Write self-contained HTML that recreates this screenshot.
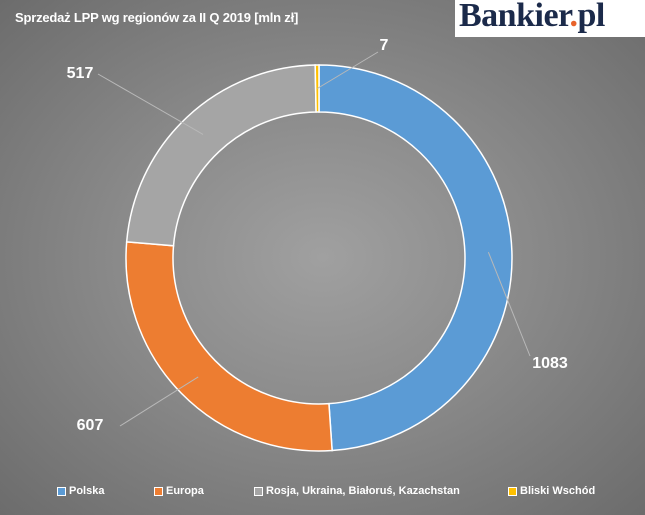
<!DOCTYPE html>
<html><head><meta charset="utf-8"><style>
html,body{margin:0;padding:0}
body{width:645px;height:515px;overflow:hidden;background:radial-gradient(ellipse at 50% 50%,#a0a0a0 0%,#8a8a8a 45%,#6c6c6c 100%);font-family:"Liberation Sans",sans-serif;position:relative}
#title{position:absolute;left:15px;top:10px;color:#fff;font-size:13px;font-weight:bold;letter-spacing:-0.2px}
#logo{position:absolute;left:455px;top:0;width:190px;height:37px;background:#fff}
#logo span{position:absolute;left:4px;top:-3px;font-family:"Liberation Serif",serif;font-weight:bold;font-size:34px;color:#1b2a4a;letter-spacing:-0.5px}
.lg{position:absolute;top:485px;color:#fff;font-size:11px;font-weight:bold;display:flex;align-items:center}
.lg i{display:inline-block;width:7px;height:7px;border:1px solid #fff;margin-right:3px}
</style></head><body>
<div id="title">Sprzedaż LPP wg regionów za II Q 2019 [mln zł]</div>
<div id="logo"><span>Bankier<span style="position:static;color:#e8632b;font-size:34px">.</span>pl</span></div>
<svg id="chart" width="645" height="515" style="position:absolute;left:0;top:0"></svg>
<div class="lg" style="left:57px"><i style="background:#5b9bd5"></i>Polska</div>
<div class="lg" style="left:154px"><i style="background:#ed7d31"></i>Europa</div>
<div class="lg" style="left:254px"><i style="background:#a5a5a5"></i>Rosja, Ukraina, Białoruś, Kazachstan</div>
<div class="lg" style="left:508px"><i style="background:#ffc000"></i>Bliski Wschód</div>
<script>
const categories=["Polska","Europa","Rosja, Ukraina, Białoruś, Kazachstan","Bliski Wschód"];
const values=[1083,607,517,7];
const colors=["#5b9bd5","#ed7d31","#a5a5a5","#ffc000"];
const labelPos=[[550,368],[90,430],[80,78],[384,50]];
const leaderEnd=[[530,356],[120,426],[98,74],[378,52]];
const svg=document.getElementById('chart');
const NS="http://www.w3.org/2000/svg";
const cx=319,cy=258,R=193,r=146;
const total=values.reduce((a,b)=>a+b,0);
function pt(a,rad){return [cx+rad*Math.sin(a),cy-rad*Math.cos(a)];}
let a0=0;
values.forEach((v,i)=>{
  const a1=a0+v/total*2*Math.PI;
  const large=(a1-a0)>Math.PI?1:0;
  const p1=pt(a0,R),p2=pt(a1,R),p3=pt(a1,r),p4=pt(a0,r);
  const p=document.createElementNS(NS,'path');
  p.setAttribute('d',`M${p1[0]},${p1[1]}A${R},${R} 0 ${large} 1 ${p2[0]},${p2[1]}L${p3[0]},${p3[1]}A${r},${r} 0 ${large} 0 ${p4[0]},${p4[1]}Z`);
  p.setAttribute('fill',colors[i]);p.setAttribute('stroke','#fff');p.setAttribute('stroke-width','1.5');
  
  
  svg.appendChild(p);
  const mid=(a0+a1)/2,m=pt(mid,(R+r)/2);
  const ln=document.createElementNS(NS,'line');
  ln.setAttribute('x1',m[0]);ln.setAttribute('y1',m[1]);ln.setAttribute('x2',leaderEnd[i][0]);ln.setAttribute('y2',leaderEnd[i][1]);
  ln.setAttribute('stroke','#b8b8b8');ln.setAttribute('stroke-width','1');
  
  
  svg.appendChild(ln);
  const t=document.createElementNS(NS,'text');
  t.setAttribute('x',labelPos[i][0]);t.setAttribute('y',labelPos[i][1]);
  t.setAttribute('text-anchor','middle');t.setAttribute('fill','#fff');t.setAttribute('font-size','16');t.setAttribute('font-weight','bold');
  t.setAttribute('font-family','Liberation Sans, sans-serif');
  t.textContent=values[i];
  
  
  svg.appendChild(t);
  a0=a1;
});
</script>
</body></html>
